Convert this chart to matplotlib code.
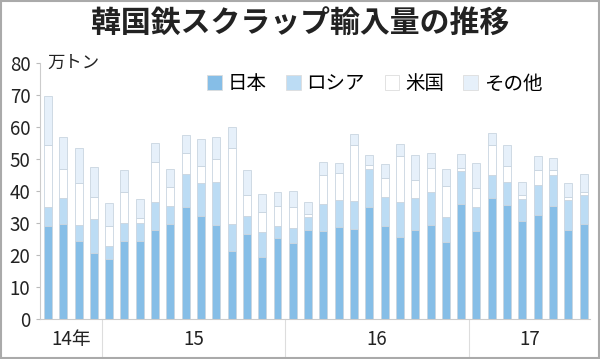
import numpy as np
import matplotlib
matplotlib.use("Agg")
import matplotlib.pyplot as plt
from matplotlib.patches import Rectangle

plt.rcParams["font.family"] = ["Noto Sans CJK JP", "DejaVu Sans"]

# monthly imports, 2014-09 .. 2017-08 (10k tons)
japan = [29.2, 29.7, 24.5, 20.6,
         18.6, 24.5, 24.5, 27.8, 29.7, 35.1, 32.2, 29.3, 21.3, 26.5, 19.4, 25.3,
         23.8, 27.8, 27.5, 28.6, 28.2, 35.1, 29.1, 25.5, 27.8, 29.5, 24.1, 35.9,
         27.5, 37.7, 35.6, 30.7, 32.5, 35.2, 27.8, 29.7]
russia = [5.8, 8.1, 4.8, 10.6,
          4.2, 5.5, 5.5, 8.8, 5.6, 10.2, 10.2, 13.5, 8.4, 5.7, 7.7, 3.8,
          4.7, 4.2, 8.4, 8.6, 8.7, 11.8, 8.9, 11.1, 9.9, 10.3, 7.8, 10.4,
          7.4, 7.4, 7.2, 6.9, 9.3, 9.7, 9.4, 9.1]
usa = [19.3, 9.0, 13.1, 7.0,
       6.2, 9.6, 1.5, 12.4, 6.1, 6.5, 5.5, 7.2, 23.8, 6.4, 6.4, 6.1,
       6.4, 0.8, 9.2, 8.5, 17.6, 1.1, 6.2, 14.3, 5.7, 7.5, 9.8, 0.8,
       6.1, 9.4, 5.1, 1.2, 4.7, 1.8, 1.0, 0.8]
other = [15.5, 10.2, 10.9, 9.2,
         7.3, 7.0, 5.9, 6.0, 5.4, 5.8, 8.5, 6.9, 6.6, 7.9, 5.5, 4.4,
         5.0, 3.8, 4.0, 2.9, 3.2, 3.1, 4.2, 3.7, 8.0, 4.5, 5.1, 4.6,
         7.6, 3.5, 6.5, 4.0, 4.5, 3.7, 4.3, 5.7]

series_names = ["日本", "ロシア", "米国", "その他"]
colors = ["#86bee7", "#bcdcf4", "#ffffff", "#e6f0fa"]
year_labels = ["14年", "15", "16", "17"]
months_per_year = [4, 12, 12, 8]

fig = plt.figure(figsize=(6.0, 3.59), dpi=100)
ax = fig.add_axes([40 / 600, 40 / 359, 550 / 600, 256 / 359])

x = np.arange(len(japan))
bottom = np.zeros(len(japan))
for vals, name, c in zip([japan, russia, usa, other], series_names, colors):
    ax.bar(x, vals, bottom=bottom, width=0.52, color=c, edgecolor="#c9d5e0",
           linewidth=0.6, label=name)
    bottom += np.array(vals)

ax.set_xlim(-0.52, 35.42)
ax.set_ylim(0, 80)
ax.set_yticks(range(0, 81, 10))
ax.tick_params(axis="y", labelsize=13.5, length=3, color="#bbbbbb", pad=4, labelcolor="#222222")
ax.set_xticks([])
for s in ["top", "right"]:
    ax.spines[s].set_visible(False)
ax.spines["left"].set_color("#cccccc")
ax.spines["bottom"].set_color("#cccccc")

# year separators and labels below the axis
edges = np.concatenate([[0], np.cumsum(months_per_year)]) - 0.5
for e in edges[1:-1]:
    ax.plot([e, e], [0, -12.5], color="#dddddd", lw=0.8, clip_on=False)
for i, lab in enumerate(year_labels):
    mid = (edges[i] + edges[i + 1]) / 2
    ax.text(mid, -6.3, lab, ha="center", va="center", fontsize=13.5, color="#222222")

ax.text(1.65, 80, "万トン", ha="center", va="center", fontsize=12.5, color="#222222")

leg = ax.legend(loc="upper left", bbox_to_anchor=(0.29, 0.99), ncol=4, frameon=False,
                fontsize=14, handlelength=0.75, handleheight=0.75, handletextpad=0.3,
                columnspacing=1.0, borderaxespad=0)
for h in leg.legend_handles:
    h.set_edgecolor("#dddddd")

fig.text(0.5, 0.937, "韓国鉄スクラップ輸入量の推移", ha="center", va="center",
         fontsize=21.5, fontweight="bold", color="#222222")

fig.patches.append(Rectangle((0.002, 0.003), 0.996, 0.994, transform=fig.transFigure,
                             fill=False, edgecolor="#aaaaaa", lw=1.5))

fig.savefig("out.png", dpi=100)
